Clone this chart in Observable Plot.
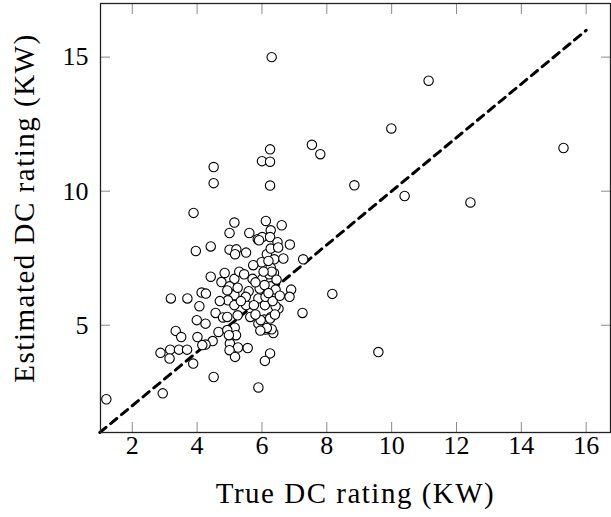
<!DOCTYPE html>
<html>
<head>
<meta charset="utf-8">
<script src="https://cdn.jsdelivr.net/npm/d3@7"></script>
<script src="https://cdn.jsdelivr.net/npm/@observablehq/plot@0.6"></script>
<style>
  html, body { margin: 0; padding: 0; background: #fff; }
</style>
</head>
<body>
<div id="chart"></div>
<script>
const trueDC = [6.30,4.51,4.51,6.25,6.00,6.25,6.25,7.54,7.80,11.14,9.99,15.30,8.85,10.40,12.43,7.27,8.17,7.25,9.59,1.20,2.94,
  3.89,5.15,5.00,6.12,6.61,5.61,6.27,5.87,6.01,6.25,6.48,6.86,4.42,3.96,5.00,5.21,5.17,5.51,6.15,6.27,6.38,6.66,5.99,5.73,6.27,6.37,
  4.42,4.75,5.15,5.71,6.01,6.27,5.00,5.59,5.93,6.90,6.85,6.34,4.14,4.27,3.19,3.70,5.15,4.95,5.51,5.89,5.75,6.09,5.15,4.07,6.51,
  4.57,4.80,5.25,5.64,6.07,6.28,3.99,4.26,5.16,5.89,6.11,6.35,3.34,3.51,4.66,4.93,5.20,4.01,4.48,4.26,5.01,5.26,5.56,3.17,3.44,3.69,
  2.87,3.15,3.88,5.00,5.17,6.25,6.09,4.51,5.89,
  6.42,5.50,6.11,6.42,5.91,6.22,4.93,4.93,5.96,6.25,4.98,4.16,6.20,6.30,6.08,6.33,6.30,6.15,
  5.30,5.80,6.45,6.50,5.45,6.05,5.80,6.40,5.35,4.70,6.55,5.95,6.20,5.25,4.85];
const estDC = [15.00,10.90,10.30,11.56,11.12,11.10,10.21,11.73,11.38,14.12,12.34,11.61,10.22,9.82,9.58,7.46,6.17,5.46,4.00,2.24,2.46,
  9.19,8.83,8.44,8.89,8.73,8.44,8.54,8.21,8.29,8.29,8.10,8.01,7.94,7.77,7.82,7.83,7.65,7.71,7.65,7.86,7.46,7.49,7.35,7.24,7.15,6.95,
  6.81,6.61,6.73,6.73,6.73,6.45,6.45,6.27,6.37,6.33,6.06,6.12,6.22,6.18,6.00,6.00,6.12,5.93,5.75,6.00,5.75,5.75,5.75,5.71,5.62,
  5.46,5.29,5.37,5.31,5.21,5.31,5.19,5.06,4.91,5.06,4.84,4.71,4.79,4.56,4.75,4.82,4.63,4.56,4.41,4.28,4.32,4.17,4.15,4.09,4.09,4.09,
  3.97,3.76,3.57,4.07,3.82,3.95,3.67,3.07,2.68,
  6.33,6.06,6.06,5.71,8.17,6.90,6.30,5.31,5.19,5.25,4.63,4.26,7.40,7.00,6.50,5.90,4.85,4.90,
  7.00,6.60,6.70,7.90,6.90,7.00,5.40,5.40,5.90,5.90,6.10,4.80,6.20,6.40,6.95];
const xTicks = [2, 4, 6, 8, 10, 12, 14, 16];
const yTicks = [5, 10, 15];
const refX = [1, 16];
const refY = [1, 16];
const xLabel = "True DC rating (KW)";
const yLabel = "Estimated DC rating (KW)";

const points = trueDC.map((x, i) => ({x, y: estDC[i]}));
const refLine = refX.map((x, i) => ({x, y: refY[i]}));

const font = "'Liberation Serif', 'DejaVu Serif', serif";
const tickGray = "#8a8a8a";

const chart = Plot.plot({
  width: 611,
  height: 517,
  marginLeft: 100,
  marginRight: 1,
  marginTop: 3,
  marginBottom: 85,
  x: {domain: [1.02, 16.75]},
  y: {domain: [1, 17]},
  style: {fontFamily: font, fontSize: "26px", background: "#fff", color: "#000"},
  marks: [
    Plot.line(refLine, {x: "x", y: "y", stroke: "#000", strokeWidth: 3, strokeDasharray: "8,6"}),
    Plot.dot(points, {x: "x", y: "y", r: 4.7, stroke: "#000", strokeWidth: 1.1, fill: "#fff"}),
    Plot.axisX({anchor: "bottom", ticks: xTicks, tickSize: -10, stroke: tickGray, tickFormat: () => "", label: null}),
    Plot.axisX({anchor: "top", ticks: xTicks, tickSize: -10, stroke: tickGray, tickFormat: () => "", label: null}),
    Plot.axisY({anchor: "left", ticks: yTicks, tickSize: -10, stroke: tickGray, tickFormat: () => "", label: null}),
    Plot.axisY({anchor: "right", ticks: yTicks, tickSize: -10, stroke: tickGray, tickFormat: () => "", label: null}),
    Plot.axisX({anchor: "bottom", ticks: xTicks, tickSize: 0, tickPadding: 3, fontSize: 26, label: null}),
    Plot.axisY({anchor: "left", ticks: yTicks, tickSize: 0, tickPadding: 12, fontSize: 26, label: null}),
    Plot.frame({stroke: "#222", strokeWidth: 1.3}),
    Plot.text([xLabel], {frameAnchor: "bottom", dy: 61, text: d => d, textAnchor: "middle", lineAnchor: "middle", fontSize: 29, className: "axis-title"}),
    Plot.text([yLabel], {frameAnchor: "left", dx: -76, dy: -10, rotate: -90, text: d => d, textAnchor: "middle", lineAnchor: "middle", fontSize: 29, className: "axis-title"})
  ]
});
d3.select(chart).selectAll(".axis-title text").style("letter-spacing", "1.5px");
document.getElementById("chart").appendChild(chart);
</script>
</body>
</html>
